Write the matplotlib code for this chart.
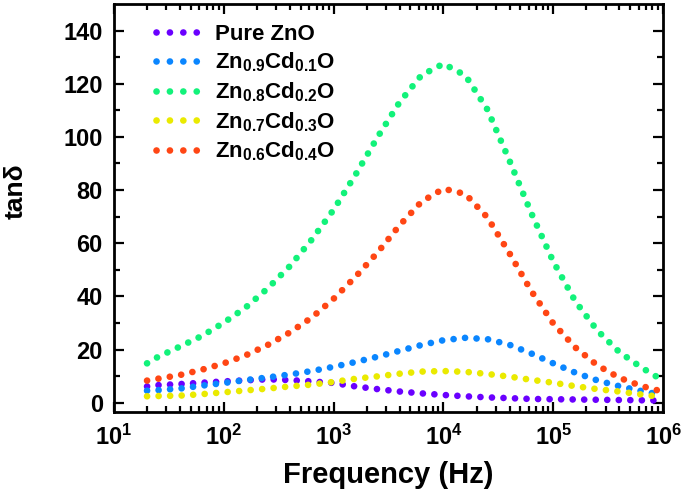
import math
import matplotlib
matplotlib.use("Agg")
import matplotlib.pyplot as plt
from matplotlib.lines import Line2D
from matplotlib.ticker import FixedLocator, LogLocator, FuncFormatter, NullFormatter

plt.rcParams['font.family'] = ['Liberation Sans', 'DejaVu Sans']
plt.rcParams['mathtext.fontset'] = 'custom'
plt.rcParams['mathtext.rm'] = 'Liberation Sans:bold'
plt.rcParams['mathtext.bf'] = 'Liberation Sans:bold'
plt.rcParams['mathtext.it'] = 'Liberation Sans:bold'

# frequency sweep (Hz)
freq = [20, 25.1, 39.8, 63.1, 100, 158, 251, 398, 631, 1000, 1585, 2512, 3981,
        6310, 10000, 15849, 25119, 39811, 63096, 100000, 158489, 251189,
        398107, 630957, 1000000]

# tan delta for each composition
pure_zno = [6.1, 6.6, 7.0, 7.5, 8.0, 8.4, 8.8, 8.5, 8.0, 7.4, 6.1, 5.1, 4.2,
            3.5, 2.9, 2.4, 2.0, 1.7, 1.4, 1.3, 1.2, 1.1, 1.0, 0.9, 0.8]
cd01 = [4.5, 4.7, 5.3, 6.4, 7.4, 8.5, 9.5, 10.6, 11.9, 13.5, 15.3, 17.3, 19.5,
        21.7, 23.5, 24.4, 23.9, 21.8, 18.5, 14.8, 11.3, 8.4, 6.2, 4.4, 2.8]
cd02 = [14.8, 17.2, 21.1, 25.1, 30.1, 35.8, 43.0, 51.3, 61.3, 72.6, 85.8, 99.9,
        113.0, 123.2, 127.5, 123.1, 110.3, 91.2, 71.3, 53.1, 38.2, 27.2, 19.1,
        13.3, 8.3]
cd03 = [2.4, 2.5, 2.65, 3.2, 3.9, 4.6, 5.3, 6.1, 6.8, 7.8, 9.0, 9.9, 10.9,
        11.7, 11.9, 11.6, 10.8, 9.8, 8.6, 7.5, 6.2, 5.1, 4.2, 3.1, 2.1]
cd04 = [8.3, 9.0, 10.4, 12.4, 14.8, 17.8, 21.7, 26.4, 32.0, 39.1, 47.4, 56.5,
        66.7, 75.6, 80.5, 78.5, 69.7, 56.3, 42.0, 29.8, 20.8, 14.1, 9.4, 6.3, 4.1]

labels = ['Pure ZnO',
          r'Zn$_{0.9}$Cd$_{0.1}$O',
          r'Zn$_{0.8}$Cd$_{0.2}$O',
          r'Zn$_{0.7}$Cd$_{0.3}$O',
          r'Zn$_{0.6}$Cd$_{0.4}$O']
colors = ['#6a00ff', '#0a86ff', '#12f27a', '#eaea00', '#ff4614']
series = [pure_zno, cd01, cd02, cd03, cd04]

fig = plt.figure(figsize=(6.85, 4.96), dpi=100)
ax = fig.add_axes([0.1664, 0.1694, 0.8016, 0.8226])

lw = 4.8
for y, c in zip(series, colors):
    ax.plot(freq, y, color=c, lw=lw, linestyle=(0, (0.01, 1.72)),
            dash_capstyle='round', solid_capstyle='round')

ax.set_xscale('log')
ax.set_xlim(10, 1e6)
ax.set_ylim(-3.5, 150)

ax.yaxis.set_major_locator(FixedLocator([0, 20, 40, 60, 80, 100, 120, 140]))
ax.yaxis.set_minor_locator(FixedLocator(list(range(10, 150, 20))))
ax.xaxis.set_major_locator(LogLocator(base=10, numticks=10))
ax.xaxis.set_minor_locator(LogLocator(base=10, subs=range(2, 10), numticks=20))
ax.xaxis.set_major_formatter(FuncFormatter(lambda v, p: r'$\mathbf{10^{%d}}$' % round(math.log10(v))))
ax.xaxis.set_minor_formatter(NullFormatter())

ax.tick_params(which='both', direction='in', top=True, right=True, width=1.6)
ax.tick_params(which='major', length=7.5)
ax.tick_params(which='minor', length=4)
ax.tick_params(axis='y', labelsize=17, pad=8)
ax.tick_params(axis='x', labelsize=17, pad=9)
for t in ax.get_yticklabels():
    t.set_fontweight('bold')
for s in ax.spines.values():
    s.set_linewidth(2)

ax.set_xlabel('Frequency (Hz)', fontsize=21, fontweight='bold', labelpad=8)
ax.set_ylabel('tan\u03b4', fontsize=19, fontweight='bold')
ax.yaxis.set_label_coords(-0.157, 0.54)

handles = [Line2D([], [], color=c, lw=lw, linestyle=(0, (0.01, 2.0)),
                  dash_capstyle='round') for c in colors]
ax.legend(handles, labels, loc='upper left', bbox_to_anchor=(0.06, 0.973),
          frameon=False, prop={'size': 16, 'weight': 'bold'},
          handlelength=1.9, handletextpad=0.75, labelspacing=0.27,
          borderaxespad=0)

fig.savefig('out.png', dpi=100)
